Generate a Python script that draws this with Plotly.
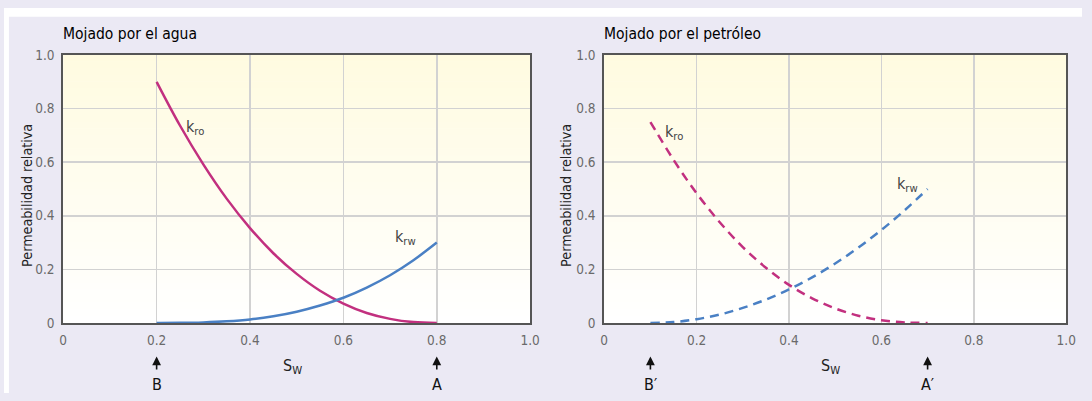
import plotly.graph_objects as go

# ---- data ----
sw_water = [0.20, 0.25, 0.30, 0.35, 0.40, 0.45, 0.50, 0.55, 0.60, 0.65, 0.70, 0.75, 0.80]
kro_water = [0.900, 0.737, 0.592, 0.464, 0.354, 0.260, 0.183, 0.120, 0.072, 0.037, 0.015, 0.003, 0.0]
krw_water = [0.0, 0.0003, 0.002, 0.006, 0.013, 0.025, 0.042, 0.065, 0.094, 0.132, 0.178, 0.234, 0.300]

sw_oil = [0.10, 0.15, 0.20, 0.25, 0.30, 0.35, 0.40, 0.45, 0.50, 0.55, 0.60, 0.65, 0.70]
kro_oil = [0.750, 0.609, 0.484, 0.376, 0.283, 0.206, 0.142, 0.092, 0.054, 0.027, 0.010, 0.002, 0.0]
krw_oil = [0.0, 0.003, 0.014, 0.031, 0.056, 0.087, 0.125, 0.170, 0.222, 0.281, 0.347, 0.420, 0.500]

titles = ["Mojado por el agua", "Mojado por el petróleo"]
tick_vals = [0, 0.2, 0.4, 0.6, 0.8, 1.0]
tick_text = ["0", "0.2", "0.4", "0.6", "0.8", "1.0"]
marks_water = [(0.2, "B"), (0.8, "A")]
marks_oil = [(0.1, "B′"), (0.7, "A′")]

# ---- styling ----
W, H = 1092, 401
PINK = "#C2307F"
BLUE = "#4A80C4"
LAV = "#EBE9F4"
FONT = "Liberation Sans Narrow, DejaVu Sans Condensed, Roboto Condensed, Arial Narrow, Liberation Sans, sans-serif"

def px_x(p):
    return p / W

def px_y(p):
    return (H - p) / H

dom_y = [px_y(328), px_y(49)]
dom_x1 = [px_x(60), px_x(533)]
dom_x2 = [px_x(608), px_x(1076)]

fig = go.Figure()

fig.add_trace(go.Scatter(x=sw_water, y=kro_water, mode="lines", line=dict(color=PINK, width=2.5, shape="spline"),
                         xaxis="x", yaxis="y", showlegend=False, hoverinfo="skip"))
fig.add_trace(go.Scatter(x=sw_water, y=krw_water, mode="lines", line=dict(color=BLUE, width=2.5, shape="spline"),
                         xaxis="x", yaxis="y", showlegend=False, hoverinfo="skip"))
fig.add_trace(go.Scatter(x=sw_oil, y=kro_oil, mode="lines",
                         line=dict(color=PINK, width=2.5, shape="spline", dash="9px,6px"),
                         xaxis="x2", yaxis="y2", showlegend=False, hoverinfo="skip"))
fig.add_trace(go.Scatter(x=sw_oil, y=krw_oil, mode="lines",
                         line=dict(color=BLUE, width=2.5, shape="spline", dash="9px,6px"),
                         xaxis="x2", yaxis="y2", showlegend=False, hoverinfo="skip"))

axis_common = dict(range=[0, 1.0], tickvals=tick_vals, ticktext=tick_text,
                   showgrid=True, gridcolor="#D2D2D2", gridwidth=1.5,
                   showline=True, linecolor="#555555", linewidth=2, mirror=True,
                   zeroline=False, ticks="outside", ticklen=4, tickcolor="rgba(0,0,0,0)",
                   tickfont=dict(family=FONT, size=13.5, color="#6A6A6A"))

fig.update_layout(
    width=W, height=H,
    margin=dict(l=0, r=0, t=0, b=0),
    paper_bgcolor=LAV,
    plot_bgcolor="white",
    xaxis=dict(domain=dom_x1, anchor="y", **axis_common),
    yaxis=dict(domain=dom_y, anchor="x", **axis_common),
    xaxis2=dict(domain=dom_x2, anchor="y2", **axis_common),
    yaxis2=dict(domain=dom_y, anchor="x2", **axis_common),
)

shapes = []
# white strips around lavender panel
shapes.append(dict(type="rect", xref="paper", yref="paper", x0=0, x1=1, y0=px_y(9), y1=1,
                   fillcolor="white", line=dict(width=0), layer="above"))
shapes.append(dict(type="rect", xref="paper", yref="paper", x0=0, x1=px_x(5), y0=0, y1=1,
                   fillcolor="white", line=dict(width=0), layer="above"))
# gradient plot background (yellow at top -> white at bottom)
N = 40
for xr, yr in (("x domain", "y domain"), ("x2 domain", "y2 domain")):
    for i in range(N):
        t = (i + 0.5) / N  # 0 bottom -> 1 top
        g = int(round(255 - 4 * t))
        b = int(round(255 - 31 * t))
        shapes.append(dict(type="rect", xref=xr, yref=yr, x0=0, x1=1, y0=i / N, y1=(i + 1) / N + 0.002,
                           fillcolor=f"rgb(255,{g},{b})", line=dict(width=0), layer="below"))
fig.update_layout(shapes=shapes)

ann = []
for xr, title, dom in (("x", titles[0], dom_x1), ("x2", titles[1], dom_x2)):
    ann.append(dict(text=title, xref="paper", yref="paper", x=dom[0] - 0.002, y=px_y(27), xanchor="left",
                    yanchor="middle", showarrow=False, font=dict(family=FONT, size=15.5, color="#000")))
    ann.append(dict(text="S<sub>W</sub>", xref=xr, yref="paper", x=0.49, y=px_y(373), xanchor="center",
                    yanchor="middle", showarrow=False, font=dict(family=FONT, size=16, color="#222")))
for xpx in (24, 570):
    ann.append(dict(text="Permeabilidad relativa", xref="paper", yref="paper", x=px_x(xpx), y=px_y(195),
                    textangle=-90, showarrow=False, xanchor="center", yanchor="middle",
                    font=dict(family=FONT, size=14.2, color="#222")))

for xr, marks in (("x", marks_water), ("x2", marks_oil)):
    for xv, lab in marks:
        ann.append(dict(text=lab, xref=xr, yref="paper", x=xv, y=px_y(363), ax=0, ay=28,
                        showarrow=True, arrowhead=2, arrowsize=1.1, arrowwidth=1.6, arrowcolor="#111",
                        startstandoff=4, font=dict(family=FONT, size=16, color="#111")))

labels = [("x", "y", 0.283, 0.73, "k<sub>ro</sub>"), ("x", "y", 0.734, 0.32, "k<sub>rw</sub>"),
          ("x2", "y2", 0.151, 0.71, "k<sub>ro</sub>"), ("x2", "y2", 0.657, 0.516, "k<sub>rw</sub>")]
for xr, yr, xv, yv, t in labels:
    ann.append(dict(text=t, xref=xr, yref=yr, x=xv, y=yv, showarrow=False, xanchor="center", yanchor="middle",
                    font=dict(family=FONT, size=16, color="#444")))

fig.update_layout(annotations=ann)
fig.write_html("out.html", config={"displayModeBar": False, "staticPlot": True},
               post_script="document.body.style.margin='0';document.body.style.overflow='hidden';"
                           "document.body.style.background='" + LAV + "';"
                           "document.documentElement.style.background='" + LAV + "';")
